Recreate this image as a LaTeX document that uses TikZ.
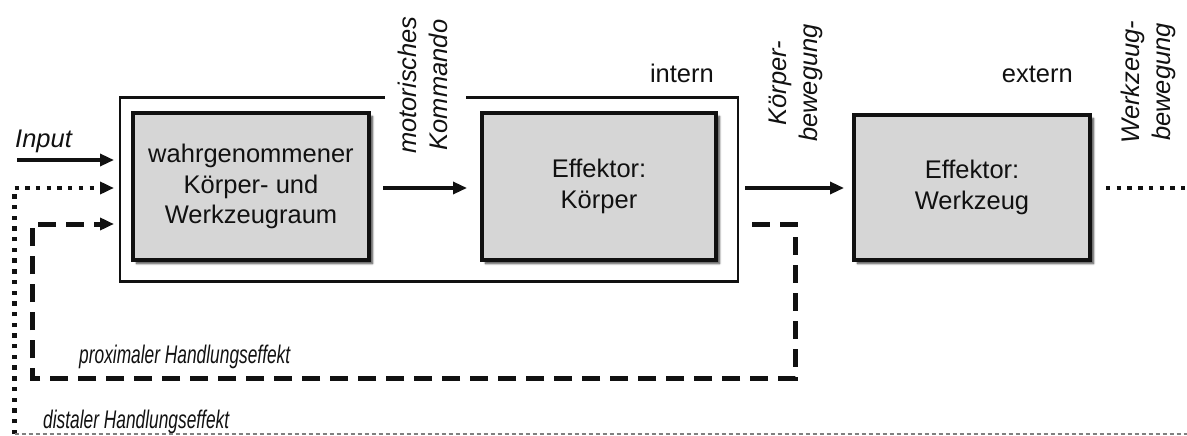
\documentclass[tikz,border=0pt]{standalone}
\usepackage{fontspec}
\setmainfont{Liberation Sans}
\newfontfamily\narrowsans[FakeStretch=0.68]{Liberation Sans}
\usetikzlibrary{arrows.meta,shadows.blur}
\definecolor{boxgray}{HTML}{D6D6D6}
\definecolor{ink}{HTML}{111111}
\tikzset{
  procbox/.style={draw=ink, line width=3.4pt, fill=boxgray, align=center,
    inner sep=0pt, font=\fontsize{25.5}{30.5}\selectfont, text=ink,
    blur shadow={shadow xshift=3.5pt, shadow yshift=-3.5pt, shadow blur steps=6, shadow opacity=75}},
  lbl/.style={font=\fontsize{25.5}{31}\selectfont, text=ink, inner sep=0pt},
  ilbl/.style={lbl, font=\fontsize{25.5}{31}\selectfont\itshape},
  nlbl/.style={lbl, font=\narrowsans\fontsize{25.5}{31}\selectfont\itshape},
  vlbl/.style={ilbl, rotate=90, align=center},
  tip/.style={-{Triangle[length=14pt,width=12pt]}},
  flow/.style={draw=ink, line width=3.3pt, tip},
  dotline/.style={draw=ink, line width=4.6pt, dash pattern=on 4.4pt off 6.3pt},
  dashline/.style={draw=ink, line width=5pt, dash pattern=on 18pt off 10pt},
}
\begin{document}
\begin{tikzpicture}[x=1pt, y=-1pt]
\useasboundingbox (0,0) rectangle (1187,436);

% processing boxes
\node[procbox, minimum width=236pt, minimum height=147pt] (wahr) at (251,186.5)
  {wahrgenommener\\Körper- und\\Werkzeugraum};
\node[procbox, minimum width=234pt, minimum height=147pt] (koerper) at (599,186.5)
  {Effektor:\\Körper};
\node[procbox, minimum width=236pt, minimum height=145pt] (werkzeug) at (972,187.5)
  {Effektor:\\Werkzeug};

% frame of the internal part, open where the command label sits
\draw[ink, line width=2.8pt] (385,97.5) -- (120,97.5) -- (120,281.5) -- (738,281.5) -- (738,97.5) -- (466,97.5);

% labels
\node[lbl, anchor=base east] (intern) at (714,82) {intern};
\node[lbl, anchor=base east] (extern) at (1073,82) {extern};
\node[vlbl] (kommando) at (423,85) {motorisches\\Kommando};
\node[vlbl] (kbew) at (796,83) {Körper-\\bewegung};
\node[vlbl] (wbew) at (1148,82) {Werkzeug-\\bewegung};
\node[ilbl, anchor=base west] (input) at (15,147) {Input};
\node[nlbl, anchor=base west] (prox) at (79,363) {proximaler Handlungseffekt};
\node[nlbl, anchor=base west] (dist) at (43,428) {distaler Handlungseffekt};

% end points of the connectors
\coordinate (inS) at (17,160);
\coordinate (inE) at (114,160);
\coordinate (cmdS) at (383,188);
\coordinate (cmdE) at (467,188);
\coordinate (bodS) at (745,188);
\coordinate (bodE) at (844,188);
\coordinate (toolS) at (1106,188);
\coordinate (toolE) at (1187,188);
\coordinate (distB) at (14.5,434);
\coordinate (distE) at (114,188);
\coordinate (proxS) at (752,224);
\coordinate (proxE) at (114,224);

% main flow
\draw[flow] (inS) -- (inE);
\draw[flow] (cmdS) -- (cmdE);
\draw[flow] (bodS) -- (bodE);
\draw[dotline] (toolS) -- (toolE);

% proximal feedback loop
\draw[dashline, tip] (proxS) -- (795,224) -- (795,378) -- (32,378) -- (32,224) -- (proxE);

% distal feedback loop
\draw[dotline, tip] (distB) -- (14.5,188) -- (distE);
\draw[gray, line width=1.3pt, dash pattern=on 4pt off 3pt] (distB) -- (1187,434);
\end{tikzpicture}
\end{document}
